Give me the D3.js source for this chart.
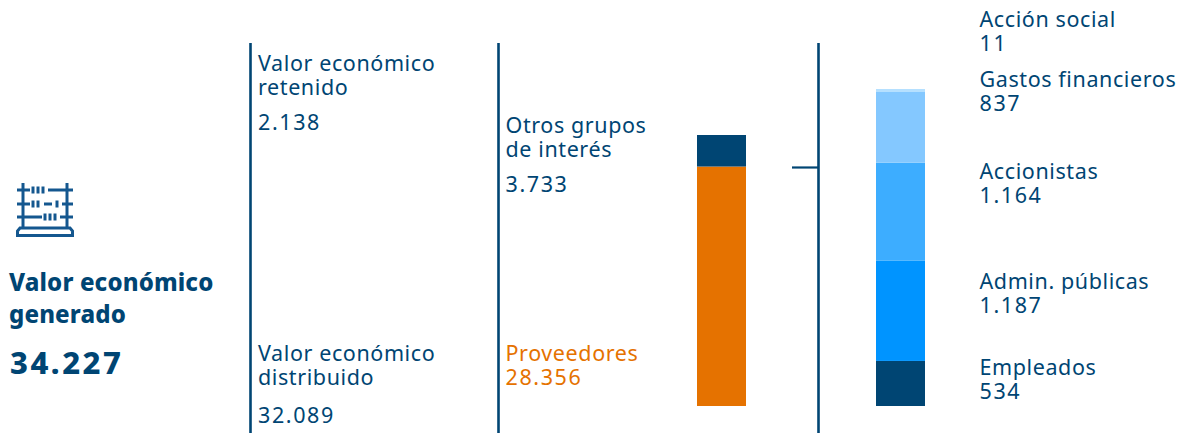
<!DOCTYPE html>
<html><head><meta charset="utf-8">
<script src="https://cdn.jsdelivr.net/npm/d3@7"></script>
<style>html,body{margin:0;padding:0;background:#fff}svg{display:block}text{font-family:"Noto Sans",sans-serif}</style>
</head><body><div id="c"></div>
<script>
const mainLabels=["Proveedores","Otros grupos de interés"];
const mainValues=[28356,3733];
const mainColors=["#E57200","#004573"];
const detailLabels=["Empleados","Admin. públicas","Accionistas","Gastos financieros","Acción social"];
const detailValues=[534,1187,1164,837,11];
const detailColors=["#004573","#0094FF","#3DADFF","#84C8FF","#B5E0FF"];
const navy="#004573",orange="#E57200";
const W=1187,H=433;
const svg=d3.select("#c").append("svg").attr("width",W).attr("height",H);

// scales
const yMain=d3.scaleLinear().domain([0,d3.sum(mainValues)]).range([406,135]);
const yDetail=d3.scaleLinear().domain([0,3722]).range([406,92]);
const xMain=d3.scaleBand().domain(["m"]).range([697,746]);
const xDetail=d3.scaleBand().domain(["d"]).range([876,925]);

function stack(vals,y,minH){let c=0;return vals.map((v,i)=>{const y0=y(c);let y1=y(c+v);if(y0-y1<minH)y1=y0-minH;c+=v;return{y0,y1,i}})}
svg.append("g").selectAll("rect").data(stack(mainValues,yMain,0)).join("rect")
 .attr("x",xMain("m")).attr("width",xMain.bandwidth()).attr("y",d=>d.y1).attr("height",d=>d.y0-d.y1).attr("fill",d=>mainColors[d.i]);
svg.append("g").selectAll("rect").data(stack(detailValues,yDetail,3)).join("rect")
 .attr("x",xDetail("d")).attr("width",xDetail.bandwidth()).attr("y",d=>d.y1).attr("height",d=>d.y0-d.y1).attr("fill",d=>detailColors[d.i]);

// rules
svg.append("g").selectAll("line").data([250.5,498.5,818.5]).join("line")
 .attr("x1",d=>d).attr("x2",d=>d).attr("y1",43).attr("y2",433).attr("stroke",navy).attr("stroke-width",2.6);
svg.append("line").attr("x1",792).attr("x2",818).attr("y1",167.5).attr("y2",167.5).attr("stroke",navy).attr("stroke-width",2.2);

// text
const FS=21.5;
const texts=[
 ["Valor económico",258,71,navy],["retenido",258,95,navy],["2.138",258,130,navy],
 ["Valor económico",258,361,navy],["distribuido",258,385,navy],["32.089",258,423,navy],
 ["Otros grupos",505.5,133,navy],["de interés",505.5,157,navy],["3.733",505.5,192,navy],
 ["Proveedores",505.5,361,orange],["28.356",505.5,385,orange],
 ["Acción social",979.5,27,navy],["11",979.5,51,navy],
 ["Gastos financieros",979.5,87,navy],["837",979.5,111,navy],
 ["Accionistas",979.5,179,navy],["1.164",979.5,203,navy],
 ["Admin. públicas",979.5,289,navy],["1.187",979.5,313,navy],
 ["Empleados",979.5,375,navy],["534",979.5,399,navy]];
svg.append("g").selectAll("text").data(texts).join("text")
 .attr("x",d=>d[1]).attr("y",d=>d[2]).attr("fill",d=>d[3]).attr("font-size",FS)
 .attr("letter-spacing",d=>/^[\d.]+$/.test(d[0])?1.6:0.6).text(d=>d[0]);
const bold=[["Valor económico",9,291,24,0.15],["generado",9,323,24,0.15],["34.227",10,374,31,2.5]];
svg.append("g").selectAll("text").data(bold).join("text")
 .attr("x",d=>d[1]).attr("y",d=>d[2]).attr("font-size",d=>d[3]).attr("letter-spacing",d=>d[4])
 .attr("font-weight",800).attr("fill",navy).text(d=>d[0]);

// abacus icon
const ic=svg.append("g").attr("fill","none").attr("stroke","#14578f").attr("stroke-width",3);
[23,67].forEach(x=>ic.append("line").attr("x1",x).attr("x2",x).attr("y1",183).attr("y2",229));
const rails=[[190,[[17,30],[48,73]]],[204,[[17,30],[44,52],[62,73]]],[217,[[17,42],[60,73]]]];
const beads=[[190,[33,38,43]],[204,[33,38,57]],[217,[45,50,55]]];
rails.forEach(([y,segs])=>segs.forEach(s=>ic.append("line").attr("x1",s[0]).attr("x2",s[1]).attr("y1",y).attr("y2",y)));
beads.forEach(([y,xs])=>xs.forEach(x=>ic.append("line").attr("x1",x).attr("x2",x).attr("y1",y-3.5).attr("y2",y+3.5)));
ic.append("path").attr("d","M17.5 235.5V231L20 228H70L72.5 231V235.5Z");
</script></body></html>
